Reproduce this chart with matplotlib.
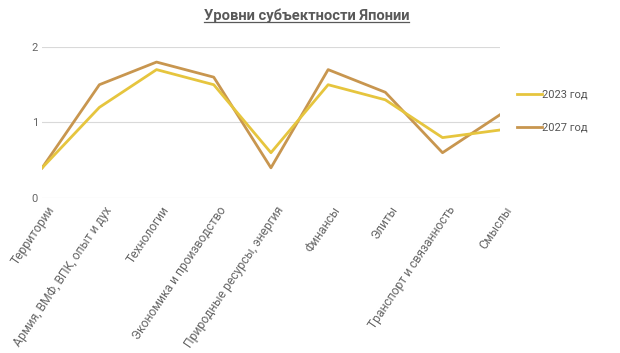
import matplotlib.pyplot as plt
from matplotlib.transforms import ScaledTranslation

categories = ['Территории', 'Армия, ВМФ, ВПК, опыт и дух', 'Технологии',
              'Экономика и производство', 'Природные ресурсы, энергия',
              'Финансы', 'Элиты', 'Транспорт и связанность', 'Смыслы']
values_2023 = [0.4, 1.2, 1.7, 1.5, 0.6, 1.5, 1.3, 0.8, 0.9]
values_2027 = [0.4, 1.5, 1.8, 1.6, 0.4, 1.7, 1.4, 0.6, 1.1]
series_names = ['2023 год', '2027 год']

plt.rcParams['font.family'] = ['Roboto', 'DejaVu Sans']

fig = plt.figure(figsize=(6.2, 3.53), dpi=100, facecolor='white')
ax = fig.add_axes([0.068, 0.439, 0.738, 0.428])

x = range(len(categories))
ax.plot(x, values_2023, color='#e6c53e', lw=2.0, label=series_names[0], zorder=3)
ax.plot(x, values_2027, color='#c8964f', lw=2.0, label=series_names[1], zorder=2)

ax.set_xlim(0, len(categories) - 1)
ax.set_ylim(0, 2)
ax.set_yticks([0, 1, 2])
ax.grid(axis='y', color='#d9d9d9', lw=0.8)
ax.set_axisbelow(True)
for s in ax.spines.values():
    s.set_visible(False)
ax.tick_params(axis='y', length=0, colors='#666666', labelsize=8, pad=3)
ax.tick_params(axis='x', length=0, colors='#666666', labelsize=8.7, pad=3)
ax.set_xticks(list(x))
ax.set_xticklabels(categories, rotation=56, ha='right', va='center',
                   rotation_mode='anchor', color='#666666')
shift = ScaledTranslation(7 / 72, -4 / 72, fig.dpi_scale_trans)
for lab in ax.get_xticklabels():
    lab.set_transform(lab.get_transform() + shift)

t = fig.suptitle('Уровни субъектности Японии', x=0.494, y=0.975, fontsize=10.6,
                 fontweight='bold', color='#595959')

fig.legend(loc='upper left', bbox_to_anchor=(0.818, 0.775), frameon=False,
           fontsize=8, labelspacing=2.1, handlelength=2.2, handletextpad=0.0,
           labelcolor='#555555')

# underline the title
fig.canvas.draw()
bb = t.get_window_extent()
inv = fig.transFigure.inverted()
(x0, y0), (x1, y1) = inv.transform([(bb.x0, bb.y0), (bb.x1, bb.y1)])
fig.add_artist(plt.Line2D([x0, x1], [y0 + 0.005, y0 + 0.005], color='#595959', lw=0.9))

fig.savefig('out.png', dpi=100, facecolor='white')
